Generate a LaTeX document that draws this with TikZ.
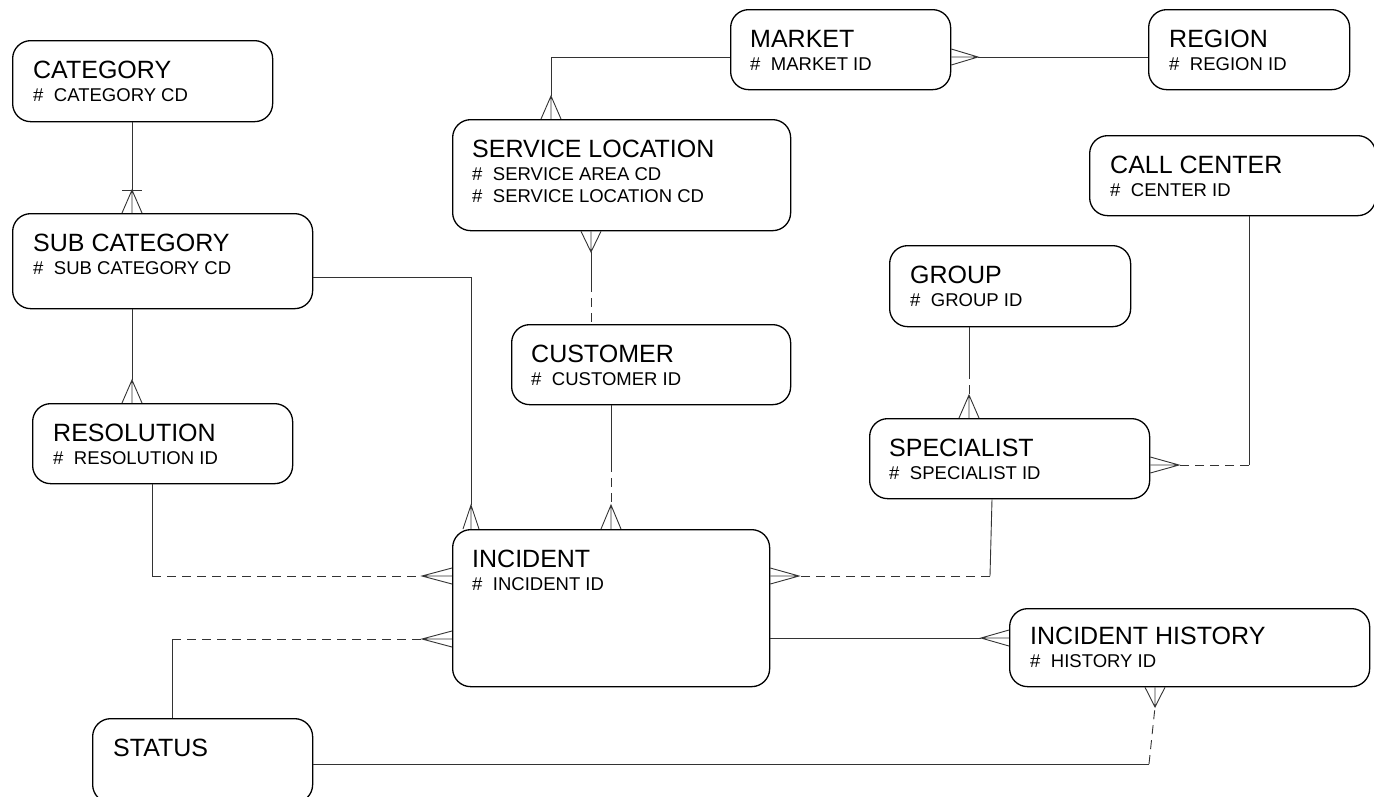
\documentclass[tikz,border=0pt]{standalone}
\usepackage{fontspec}
\setmainfont{Liberation Sans}
\usetikzlibrary{calc}
\tikzset{
  ent/.style={draw=black, line width=1.3pt, rounded corners=18pt, anchor=north west, inner sep=0pt},
  ttl/.style={anchor=base west, inner sep=0pt, font=\fontsize{25}{28}\selectfont},
  att/.style={anchor=base west, inner sep=0pt, font=\fontsize{18.5}{21}\selectfont},
  conn/.style={draw=black!80, line width=0.9pt},
  dconn/.style={conn, dash pattern=on 9pt off 6pt},
}
\newcommand{\crowfoot}[3]{\draw[conn] ($(#2)+(#3)$) -- (#1) -- ($(#2)-(#3)$) (#1) -- (#2);}
\newcommand{\hsh}{\#\hspace{10.5pt}}
\begin{document}
\begin{tikzpicture}[x=1pt,y=-1pt]
\useasboundingbox (0,0) rectangle (1374,796);
\fill[white] (0,0) rectangle (1374,796);

% entities
\node[ent, minimum width=260pt, minimum height=81pt] (cat) at (12,40) {};
\node[ent, minimum width=300pt, minimum height=95pt] (sub) at (12,213) {};
\node[ent, minimum width=260pt, minimum height=80pt] (res) at (32,403) {};
\node[ent, minimum width=317pt, minimum height=157pt] (inc) at (452,529) {};
\node[ent, minimum width=220pt, minimum height=84pt] (stat) at (92,718) {};
\node[ent, minimum width=338pt, minimum height=111pt] (sl) at (452,119) {};
\node[ent, minimum width=279pt, minimum height=80pt] (cust) at (511,324) {};
\node[ent, minimum width=220pt, minimum height=80pt] (mkt) at (730,9) {};
\node[ent, minimum width=201pt, minimum height=80pt] (reg) at (1148,9) {};
\node[ent, minimum width=286pt, minimum height=80pt] (cc) at (1089,135) {};
\node[ent, minimum width=241pt, minimum height=81pt] (grp) at (889,245) {};
\node[ent, minimum width=280pt, minimum height=80pt] (spec) at (869,418) {};
\node[ent, minimum width=360pt, minimum height=78pt] (ih) at (1009,608) {};

% texts
\node[ttl] (cat-t) at ($(cat.north west)+(21,38)$) {CATEGORY};
\node[att] (cat-a) at ($(cat.north west)+(21,61)$) {\hsh CATEGORY CD};
\node[ttl] (sub-t) at ($(sub.north west)+(21,38)$) {SUB CATEGORY};
\node[att] (sub-a) at ($(sub.north west)+(21,61)$) {\hsh SUB CATEGORY CD};
\node[ttl] (res-t) at ($(res.north west)+(21,38)$) {RESOLUTION};
\node[att] (res-a) at ($(res.north west)+(21,61)$) {\hsh RESOLUTION ID};
\node[ttl] (inc-t) at ($(inc.north west)+(20,38)$) {INCIDENT};
\node[att] (inc-a) at ($(inc.north west)+(20,61)$) {\hsh INCIDENT ID};
\node[ttl] (stat-t) at ($(stat.north west)+(21,38)$) {STATUS};
\node[ttl] (sl-t) at ($(sl.north west)+(20,38)$) {SERVICE LOCATION};
\node[att] (sl-a) at ($(sl.north west)+(20,61)$) {\hsh SERVICE AREA CD};
\node[att] (sl-b) at ($(sl.north west)+(20,83)$) {\hsh SERVICE LOCATION CD};
\node[ttl] (cust-t) at ($(cust.north west)+(20,38)$) {CUSTOMER};
\node[att] (cust-a) at ($(cust.north west)+(20,61)$) {\hsh CUSTOMER ID};
\node[ttl] (mkt-t) at ($(mkt.north west)+(20,38)$) {MARKET};
\node[att] (mkt-a) at ($(mkt.north west)+(20,61)$) {\hsh MARKET ID};
\node[ttl] (reg-t) at ($(reg.north west)+(21,38)$) {REGION};
\node[att] (reg-a) at ($(reg.north west)+(21,61)$) {\hsh REGION ID};
\node[ttl] (cc-t) at ($(cc.north west)+(21,38)$) {CALL CENTER};
\node[att] (cc-a) at ($(cc.north west)+(21,61)$) {\hsh CENTER ID};
\node[ttl] (grp-t) at ($(grp.north west)+(21,38)$) {GROUP};
\node[att] (grp-a) at ($(grp.north west)+(21,61)$) {\hsh GROUP ID};
\node[ttl] (spec-t) at ($(spec.north west)+(20,38)$) {SPECIALIST};
\node[att] (spec-a) at ($(spec.north west)+(20,61)$) {\hsh SPECIALIST ID};
\node[ttl] (ih-t) at ($(ih.north west)+(21,36)$) {INCIDENT HISTORY};
\node[att] (ih-a) at ($(ih.north west)+(21,59)$) {\hsh HISTORY ID};

% cat -> sub
\coordinate (c1) at (132,190);
\coordinate (c1f) at (c1 |- sub.north);
\draw[conn] (c1 |- cat.south) -- (c1);
\draw[conn] ($(c1)+(-10,0)$) -- ($(c1)+(10,0)$);
\crowfoot{c1}{c1f}{10,0}

% sub -> res
\coordinate (c2) at (132,380);
\coordinate (c2f) at (c2 |- res.north);
\draw[conn] (c2 |- sub.south) -- (c2);
\crowfoot{c2}{c2f}{10,0}

% res -> inc
\coordinate (c3b) at (152,576);
\coordinate (c3) at (422,576);
\coordinate (c3f) at (c3 -| inc.west);
\draw[conn] (c3b |- res.south) -- (c3b);
\draw[dconn] (c3b) -- (c3);
\crowfoot{c3}{c3f}{0,8}

% stat -> inc
\coordinate (c4b) at (172,639);
\coordinate (c4) at (422,639);
\coordinate (c4f) at (c4 -| inc.west);
\draw[conn] (c4b |- stat.north) -- (c4b);
\draw[dconn] (c4b) -- (c4);
\crowfoot{c4}{c4f}{0,8}

% sub -> inc
\coordinate (c5b) at (471,277);
\coordinate (c5) at (471,505);
\coordinate (c5f) at (c5 |- inc.north);
\draw[conn] (c5b -| sub.east) -- (c5b) -- (c5);
\crowfoot{c5}{c5f}{8,0}

% mkt -> sl
\coordinate (c6b) at (551,57);
\coordinate (c6) at (551,96);
\coordinate (c6f) at (c6 |- sl.north);
\draw[conn] (c6b -| mkt.west) -- (c6b) -- (c6);
\crowfoot{c6}{c6f}{10,0}

% reg -> mkt
\coordinate (c7) at (978,57);
\coordinate (c7f) at (c7 -| mkt.east);
\draw[conn] (c7) -- (c7 -| reg.west);
\crowfoot{c7}{c7f}{0,8}

% sl -> cust
\coordinate (c8) at (591,252);
\coordinate (c8f) at (c8 |- sl.south);
\coordinate (c8b) at (591,283);
\crowfoot{c8}{c8f}{10,0}
\draw[conn] (c8) -- (c8b);
\draw[dconn] (c8b) -- (c8b |- cust.north);

% cust -> inc
\coordinate (c9b) at (611,463);
\coordinate (c9) at (611,505);
\coordinate (c9f) at (c9 |- inc.north);
\draw[conn] (c9b |- cust.south) -- (c9b);
\draw[dconn] (c9b) -- (c9);
\crowfoot{c9}{c9f}{10,0}

% grp -> spec
\coordinate (c10b) at (969,370);
\coordinate (c10) at (969,395);
\coordinate (c10f) at (c10 |- spec.north);
\draw[conn] (c10b |- grp.south) -- (c10b);
\draw[dconn] (c10b) -- (c10);
\crowfoot{c10}{c10f}{10,0}

% cc -> spec
\coordinate (c11b) at (1249,465);
\coordinate (c11) at (1179,465);
\coordinate (c11f) at (c11 -| spec.east);
\draw[conn] (c11b |- cc.south) -- (c11b);
\draw[dconn] (c11b) -- (c11);
\crowfoot{c11}{c11f}{0,8}

% spec -> inc
\coordinate (c12b) at (990,576);
\coordinate (c12) at (799,576);
\coordinate (c12f) at (c12 -| inc.east);
\draw[conn] ($(spec.south west)+(123,0)$) -- (c12b);
\draw[dconn] (c12b) -- (c12);
\crowfoot{c12}{c12f}{0,8}

% inc -> ih
\coordinate (c13) at (981,638);
\coordinate (c13f) at (c13 -| ih.west);
\draw[conn] (c13 -| inc.east) -- (c13);
\crowfoot{c13}{c13f}{0,8}

% stat -> ih
\coordinate (c14b) at (1149,764);
\coordinate (c14) at (1155,707);
\coordinate (c14f) at (c14 |- ih.south);
\draw[conn] (c14b -| stat.east) -- (c14b);
\draw[dconn] (c14b) -- (c14);
\crowfoot{c14}{c14f}{10,0}
\end{tikzpicture}
\end{document}
